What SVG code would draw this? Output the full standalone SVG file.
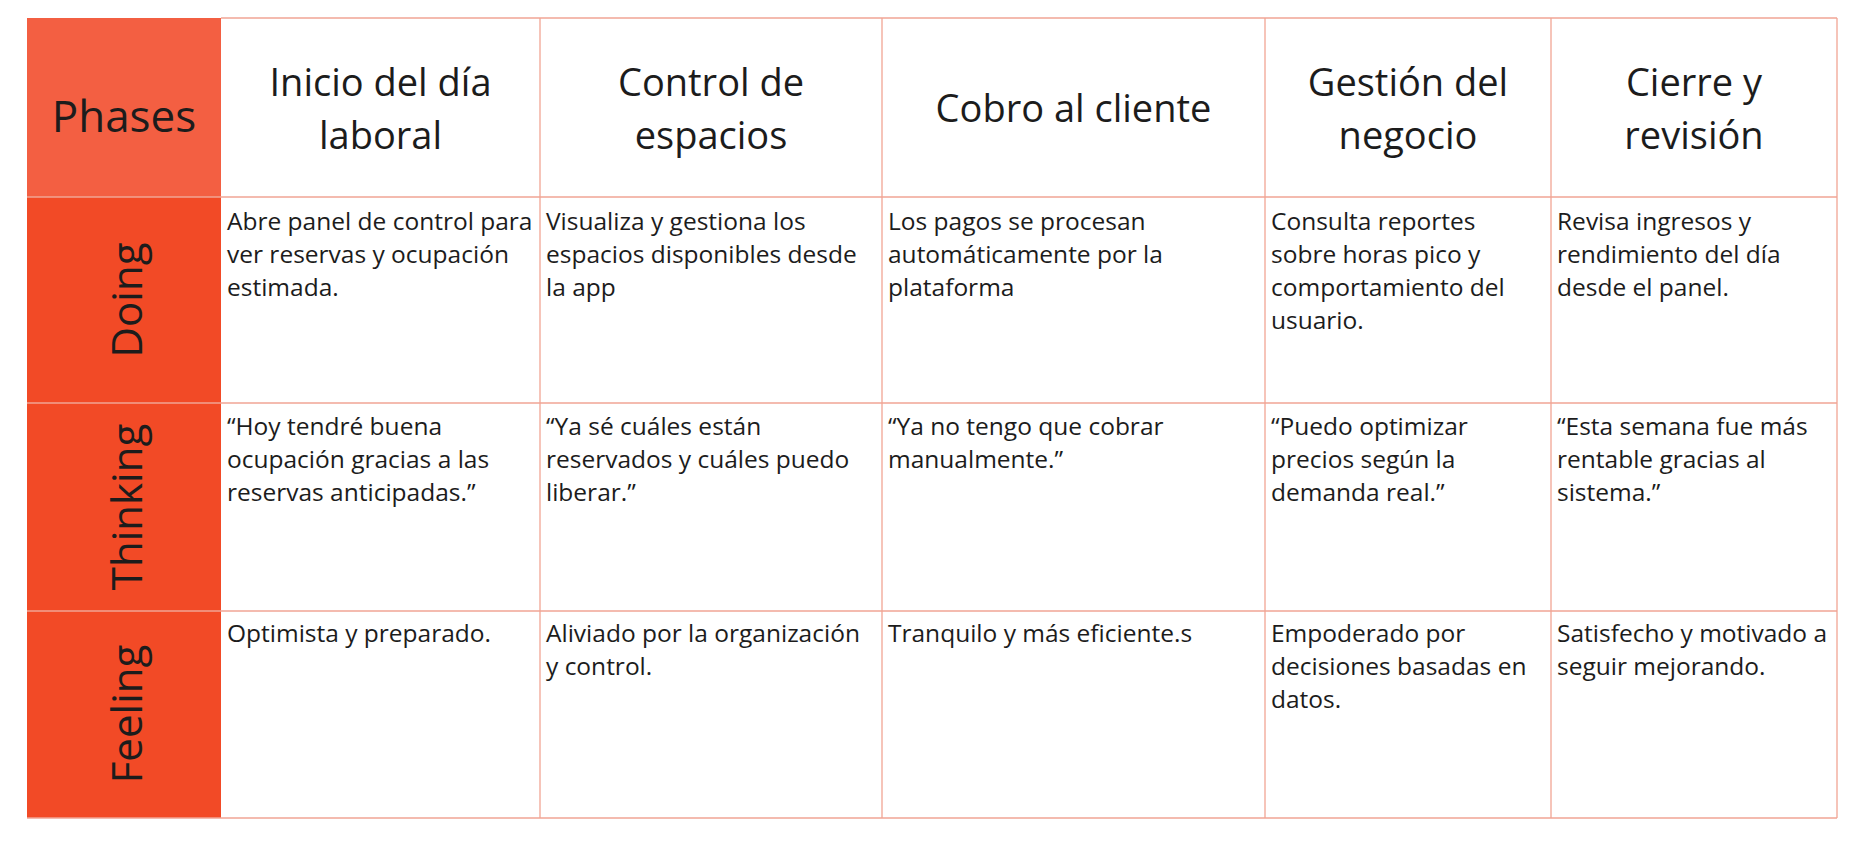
<svg xmlns="http://www.w3.org/2000/svg" width="1853" height="842" viewBox="0 0 1853 842">
<style>
.bg{fill:#ffffff}
.phase{fill:#F35F42}
.lab{fill:#F24A26}
.grid{stroke:#F1A594;stroke-width:1.3;fill:none}
.hd{font-family:"Open Sans","Noto Sans",sans-serif;font-size:38px;fill:#1c1c1c;text-anchor:middle}
.ph{font-family:"Open Sans","Noto Sans",sans-serif;font-size:44px;fill:#1c1c1c;text-anchor:middle}
.rl{font-family:"Open Sans","Noto Sans",sans-serif;font-size:42px;fill:#1c1c1c;text-anchor:middle}
.tx{font-family:"Open Sans","Noto Sans",sans-serif;font-size:24.5px;fill:#1c1c1c}
</style>
<rect x="0" y="0" width="1853" height="842" class="bg"/>

<g id="phases">
<rect x="27" y="18" width="194" height="179" class="phase"/>
<text class="ph" x="124" y="132">Phases</text>
</g>
<g id="row-doing">
<rect x="27" y="197" width="194" height="206" class="lab"/>
<text class="rl" transform="translate(142,300) rotate(-90)">Doing</text>
</g>
<g id="row-thinking">
<rect x="27" y="403" width="194" height="208" class="lab"/>
<text class="rl" transform="translate(142,507) rotate(-90)">Thinking</text>
</g>
<g id="row-feeling">
<rect x="27" y="611" width="194" height="207" class="lab"/>
<text class="rl" transform="translate(142,714) rotate(-90)">Feeling</text>
</g>

<g id="grid">
<line class="grid" x1="221" y1="18" x2="1837" y2="18"/>
<line class="grid" x1="27" y1="197" x2="1837" y2="197"/>
<line class="grid" x1="27" y1="403" x2="1837" y2="403"/>
<line class="grid" x1="27" y1="611" x2="1837" y2="611"/>
<line class="grid" x1="27" y1="818" x2="1837" y2="818"/>
<line class="grid" x1="540" y1="18" x2="540" y2="818"/>
<line class="grid" x1="882" y1="18" x2="882" y2="818"/>
<line class="grid" x1="1265" y1="18" x2="1265" y2="818"/>
<line class="grid" x1="1551" y1="18" x2="1551" y2="818"/>
<line class="grid" x1="1837" y1="18" x2="1837" y2="818"/>
</g>

<g id="h1"><text class="hd" x="380.5" y="96">Inicio del día</text><text class="hd" x="380.5" y="149">laboral</text></g>
<g id="h2"><text class="hd" x="711" y="96">Control de</text><text class="hd" x="711" y="149">espacios</text></g>
<g id="h3"><text class="hd" x="1073.5" y="122">Cobro al cliente</text></g>
<g id="h4"><text class="hd" x="1408" y="96">Gestión del</text><text class="hd" x="1408" y="149">negocio</text></g>
<g id="h5"><text class="hd" x="1694" y="96">Cierre y</text><text class="hd" x="1694" y="149">revisión</text></g>

<g id="d1"><text class="tx" x="227" y="230"><tspan x="227">Abre panel de control para</tspan><tspan x="227" dy="33">ver reservas y ocupación</tspan><tspan x="227" dy="33">estimada.</tspan></text></g>
<g id="d2"><text class="tx" x="546" y="230"><tspan x="546">Visualiza y gestiona los</tspan><tspan x="546" dy="33">espacios disponibles desde</tspan><tspan x="546" dy="33">la app</tspan></text></g>
<g id="d3"><text class="tx" x="888" y="230"><tspan x="888">Los pagos se procesan</tspan><tspan x="888" dy="33">automáticamente por la</tspan><tspan x="888" dy="33">plataforma</tspan></text></g>
<g id="d4"><text class="tx" x="1271" y="230"><tspan x="1271">Consulta reportes</tspan><tspan x="1271" dy="33">sobre horas pico y</tspan><tspan x="1271" dy="33">comportamiento del</tspan><tspan x="1271" dy="33">usuario.</tspan></text></g>
<g id="d5"><text class="tx" x="1557" y="230"><tspan x="1557">Revisa ingresos y</tspan><tspan x="1557" dy="33">rendimiento del día</tspan><tspan x="1557" dy="33">desde el panel.</tspan></text></g>

<g id="t1"><text class="tx" x="227" y="435"><tspan x="227">“Hoy tendré buena</tspan><tspan x="227" dy="33">ocupación gracias a las</tspan><tspan x="227" dy="33">reservas anticipadas.”</tspan></text></g>
<g id="t2"><text class="tx" x="546" y="435"><tspan x="546">“Ya sé cuáles están</tspan><tspan x="546" dy="33">reservados y cuáles puedo</tspan><tspan x="546" dy="33">liberar.”</tspan></text></g>
<g id="t3"><text class="tx" x="888" y="435"><tspan x="888">“Ya no tengo que cobrar</tspan><tspan x="888" dy="33">manualmente.”</tspan></text></g>
<g id="t4"><text class="tx" x="1271" y="435"><tspan x="1271">“Puedo optimizar</tspan><tspan x="1271" dy="33">precios según la</tspan><tspan x="1271" dy="33">demanda real.”</tspan></text></g>
<g id="t5"><text class="tx" x="1557" y="435"><tspan x="1557">“Esta semana fue más</tspan><tspan x="1557" dy="33">rentable gracias al</tspan><tspan x="1557" dy="33">sistema.”</tspan></text></g>

<g id="f1"><text class="tx" x="227" y="642"><tspan x="227">Optimista y preparado.</tspan></text></g>
<g id="f2"><text class="tx" x="546" y="642"><tspan x="546">Aliviado por la organización</tspan><tspan x="546" dy="33">y control.</tspan></text></g>
<g id="f3"><text class="tx" x="888" y="642"><tspan x="888">Tranquilo y más eficiente.s</tspan></text></g>
<g id="f4"><text class="tx" x="1271" y="642"><tspan x="1271">Empoderado por</tspan><tspan x="1271" dy="33">decisiones basadas en</tspan><tspan x="1271" dy="33">datos.</tspan></text></g>
<g id="f5"><text class="tx" x="1557" y="642"><tspan x="1557">Satisfecho y motivado a</tspan><tspan x="1557" dy="33">seguir mejorando.</tspan></text></g>
</svg>
